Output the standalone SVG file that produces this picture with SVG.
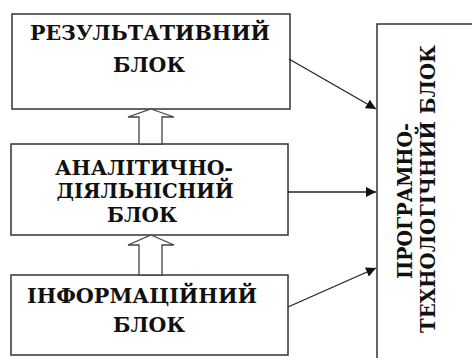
<svg xmlns="http://www.w3.org/2000/svg" width="472" height="358" viewBox="0 0 472 358">
<style>
.box{fill:#fff;stroke:#333;stroke-width:1.5}
.t{font-family:"DejaVu Serif",serif;font-weight:bold;font-size:20px;fill:#111;text-anchor:middle}
.v{font-size:21px}
.hollow{fill:#fff;stroke:#444;stroke-width:1.3}
.conn{stroke:#222;stroke-width:1.3;fill:none;marker-end:url(#ah)}
</style>
<defs>
<marker id="ah" viewBox="0 0 10 10" refX="10" refY="5" markerWidth="10" markerHeight="10" markerUnits="userSpaceOnUse" orient="auto">
<path d="M0,0 L10,5 L0,10 z" fill="#111"/>
</marker>
</defs>
<g id="node-result">
<rect class="box" x="12" y="14" width="278" height="95"/>
<text class="t" x="150" y="40" textLength="240" lengthAdjust="spacingAndGlyphs">РЕЗУЛЬТАТИВНИЙ</text>
<text class="t" x="149" y="72" textLength="72" lengthAdjust="spacingAndGlyphs">БЛОК</text>
</g>
<g id="node-analytic">
<rect class="box" x="11" y="144" width="277" height="91"/>
<text class="t" x="144" y="175" textLength="178" lengthAdjust="spacingAndGlyphs">АНАЛІТИЧНО-</text>
<text class="t" x="145" y="198" textLength="177" lengthAdjust="spacingAndGlyphs">ДІЯЛЬНІСНИЙ</text>
<text class="t" x="142" y="222" textLength="70" lengthAdjust="spacingAndGlyphs">БЛОК</text>
</g>
<g id="node-info">
<rect class="box" x="11" y="275" width="277" height="80"/>
<text class="t" x="142" y="303" textLength="230" lengthAdjust="spacingAndGlyphs">ІНФОРМАЦІЙНИЙ</text>
<text class="t" x="149" y="332" textLength="72" lengthAdjust="spacingAndGlyphs">БЛОК</text>
</g>
<g id="node-program">
<rect class="box" x="377" y="24" width="120" height="350"/>
<text class="t v" transform="translate(412,201) rotate(-90)" textLength="156" lengthAdjust="spacingAndGlyphs">ПРОГРАМНО-</text>
<text class="t v" transform="translate(435,189) rotate(-90)" textLength="288" lengthAdjust="spacingAndGlyphs">ТЕХНОЛОГІЧНИЙ БЛОК</text>
</g>
<g id="connectors">
<polygon class="hollow" points="151,109 174,117 162,117 162,144 139,144 139,117 128,117"/>
<polygon class="hollow" points="151,235 174,245 162,245 162,275 139,275 139,245 128,245"/>
<line class="conn" x1="289" y1="59" x2="376" y2="109"/>
<line class="conn" x1="288" y1="192" x2="376" y2="192"/>
<line class="conn" x1="288" y1="307" x2="376" y2="268"/>
</g>
</svg>
